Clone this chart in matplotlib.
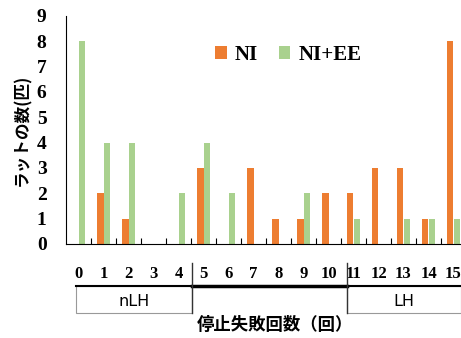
import matplotlib
matplotlib.use("Agg")
import matplotlib.pyplot as plt
from matplotlib.lines import Line2D
from matplotlib.patches import Rectangle
import numpy as np

# failures per rat (0..15)
categories = list(range(16))
ni = [0, 2, 1, 0, 0, 3, 0, 3, 1, 1, 2, 2, 3, 3, 1, 8]
ni_ee = [8, 4, 4, 0, 2, 4, 2, 0, 0, 2, 0, 1, 0, 1, 1, 1]

W, H = 461, 338
fig = plt.figure(figsize=(W / 100, H / 100), dpi=100)
ax = fig.add_axes([66 / W, 94 / H, 395 / W, 228 / H])

x = np.array(categories)
bw = 0.26
ax.bar(x - bw / 2, ni, bw, color='#ED7D31', label='NI')
ax.bar(x + bw / 2, ni_ee, bw, color='#A9D18E', label='NI+EE')

ax.set_xlim(-0.5, 15.3)
ax.set_ylim(0, 9)
ax.set_yticks(range(10))
ax.set_xticks(x)
ax.set_xticks(x[:-1] + 0.5, minor=True)
ax.tick_params(axis='x', which='major', length=0, pad=16)
ax.tick_params(axis='x', which='minor', direction='in', length=4, width=0.8)
ax.tick_params(axis='y', length=0, pad=14)
for lab in ax.get_xticklabels():
    lab.set_fontfamily('Liberation Serif')
    lab.set_fontweight('bold')
    lab.set_fontsize(12)
for lab in ax.get_yticklabels():
    lab.set_fontfamily('Liberation Serif')
    lab.set_fontweight('bold')
    lab.set_fontsize(14)
for s in ['top', 'right']:
    ax.spines[s].set_visible(False)
ax.spines['left'].set_linewidth(0.8)
ax.spines['bottom'].set_linewidth(0.8)

ax.legend(loc='center left', bbox_to_anchor=(0.33, 0.83), ncol=2, frameon=False,
          prop={'family': 'Liberation Serif', 'weight': 'bold', 'size': 15},
          handlelength=0.55, handleheight=0.55, handletextpad=0.4, columnspacing=1.0)

fig.text(22 / W, 1 - 130 / H, 'ラットの数(匹)', rotation=90, ha='center', va='center',
         family=['Noto Sans CJK JP', 'DejaVu Sans'], fontweight='bold', fontsize=12)
fig.text(275 / W, 1 - 325 / H, '停止失敗回数（回）', ha='center', va='center',
         family=['Noto Sans CJK JP', 'DejaVu Sans'], fontweight='bold', fontsize=12.5)

def px(xp, yp):
    return xp / W, 1 - yp / H

# group brackets under the axis
tr = fig.transFigure
for (x0, x1, lw) in [(76, 192, 1.5), (192, 347, 2.5), (347, 461, 1.5)]:
    (a, b), (c, d) = px(x0, 286), px(x1, 286)
    fig.add_artist(Line2D([a, c], [b, d], color='black', lw=lw, transform=tr))
for xv in (192, 347):
    (a, b), (c, d) = px(xv, 263), px(xv, 313)
    fig.add_artist(Line2D([a, c], [b, d], color='#333333', lw=1.0, transform=tr))
for (x0, x1) in [(76, 192), (347, 461)]:
    a, b = px(x0, 313)
    fig.add_artist(Rectangle((a, b), (x1 - x0) / W, 27 / H, fill=False,
                             edgecolor='#999999', lw=0.8, transform=tr))
fig.text(*px(134, 301), 'nLH', ha='center', va='center', family='DejaVu Sans', fontsize=11.5)
fig.text(*px(404, 301), 'LH', ha='center', va='center', family='DejaVu Sans', fontsize=11.5)

fig.savefig('out.png', dpi=100)
